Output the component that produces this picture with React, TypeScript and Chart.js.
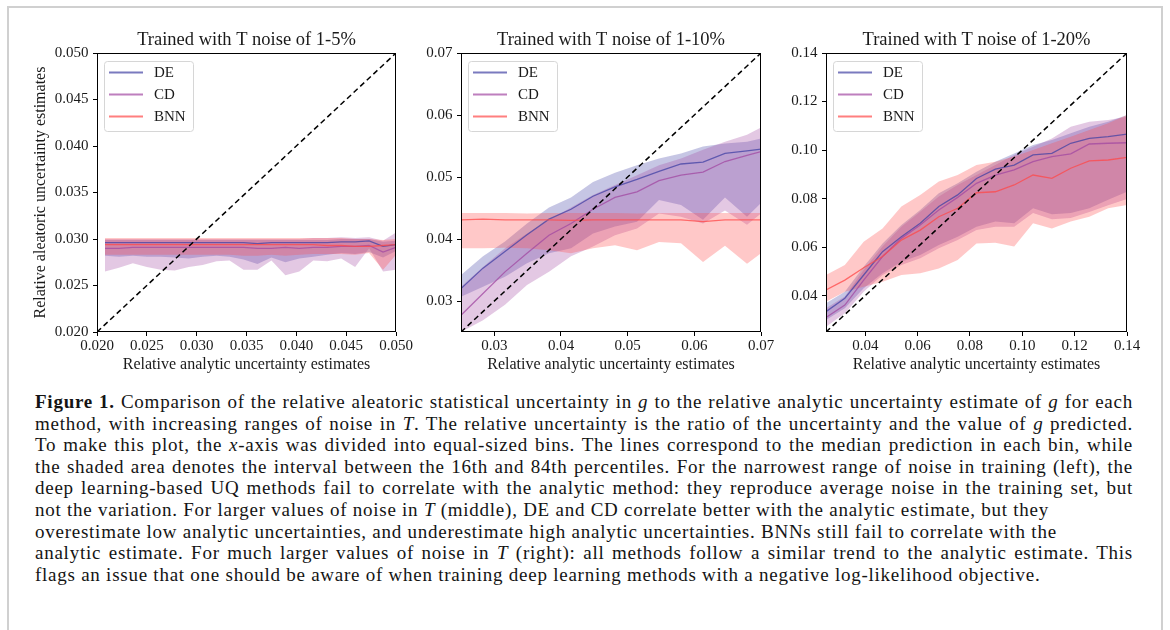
import React, { useEffect, useRef } from "react";
import { Chart, registerables } from "chart.js";

Chart.register(...registerables);

// ---------------- Panel 1: noise 1-5% ----------------
const P1_X = [0.0208, 0.0222, 0.0236, 0.025, 0.0264, 0.0278, 0.0292, 0.0306, 0.032, 0.0333, 0.0347, 0.0361, 0.0375, 0.0389, 0.0403, 0.0417, 0.0431, 0.0445, 0.0459, 0.0473, 0.0487, 0.05];
const P1_DE = [0.0296, 0.0296, 0.0296, 0.0296, 0.0296, 0.0296, 0.0296, 0.0296, 0.0296, 0.0296, 0.0296, 0.0295, 0.0296, 0.0296, 0.0296, 0.0296, 0.0296, 0.0297, 0.0297, 0.0298, 0.0292, 0.0294];
const P1_DE_HI = [0.0299, 0.0299, 0.0299, 0.0299, 0.0299, 0.0299, 0.0299, 0.0299, 0.0299, 0.0299, 0.0299, 0.0299, 0.0299, 0.0299, 0.0299, 0.0299, 0.0299, 0.03, 0.03, 0.03, 0.0297, 0.0298];
const P1_DE_LO = [0.0282, 0.0281, 0.0282, 0.0281, 0.0281, 0.028, 0.0279, 0.0281, 0.0282, 0.0281, 0.0278, 0.0273, 0.028, 0.0275, 0.0279, 0.0281, 0.0283, 0.0285, 0.0284, 0.0286, 0.028, 0.0287];
const P1_CD = [0.029, 0.029, 0.0291, 0.0291, 0.0291, 0.0291, 0.0291, 0.0291, 0.0291, 0.0291, 0.0291, 0.029, 0.029, 0.0291, 0.029, 0.0291, 0.0291, 0.0292, 0.0292, 0.0293, 0.0286, 0.0291];
const P1_CD_HI = [0.03, 0.03, 0.03, 0.03, 0.03, 0.03, 0.03, 0.03, 0.03, 0.03, 0.03, 0.03, 0.03, 0.03, 0.03, 0.0301, 0.0301, 0.0302, 0.0301, 0.0302, 0.0298, 0.0307];
const P1_CD_LO = [0.0265, 0.0269, 0.0274, 0.027, 0.0267, 0.0266, 0.027, 0.0272, 0.0276, 0.0277, 0.0267, 0.0267, 0.0277, 0.0261, 0.0265, 0.0277, 0.0276, 0.0279, 0.027, 0.029, 0.0265, 0.0267];
const P1_BNN = [0.0294, 0.0294, 0.0294, 0.0294, 0.0294, 0.0294, 0.0294, 0.0294, 0.0294, 0.0294, 0.0294, 0.0294, 0.0294, 0.0294, 0.0294, 0.0294, 0.0293, 0.0293, 0.0292, 0.0292, 0.0293, 0.0294];
const P1_BNN_HI = [0.0301, 0.0301, 0.0301, 0.0301, 0.0301, 0.0301, 0.0301, 0.0301, 0.0301, 0.0301, 0.0301, 0.0301, 0.0301, 0.0301, 0.0301, 0.0301, 0.0301, 0.0301, 0.03, 0.03, 0.0299, 0.03];
const P1_BNN_LO = [0.0283, 0.0283, 0.0283, 0.0283, 0.0283, 0.0283, 0.0283, 0.0283, 0.0283, 0.0283, 0.0282, 0.0282, 0.0283, 0.0282, 0.0283, 0.0284, 0.0284, 0.0284, 0.0283, 0.0285, 0.0267, 0.0283];
const P1_TICKS = [0.02, 0.025, 0.03, 0.035, 0.04, 0.045, 0.05];

// ---------------- Panel 2: noise 1-10% ----------------
const P2_X = [0.025, 0.0283, 0.0316, 0.0349, 0.0382, 0.0415, 0.0448, 0.0481, 0.0514, 0.0547, 0.058, 0.0613, 0.0646, 0.0679, 0.07];
const P2_DE = [0.032, 0.0353, 0.038, 0.0407, 0.0432, 0.0448, 0.0469, 0.0484, 0.0496, 0.0509, 0.0521, 0.0524, 0.0538, 0.0542, 0.0545];
const P2_DE_HI = [0.0342, 0.0372, 0.0396, 0.0425, 0.0451, 0.0467, 0.0492, 0.0507, 0.0519, 0.053, 0.0538, 0.0549, 0.0554, 0.0557, 0.0562];
const P2_DE_LO = [0.0307, 0.0323, 0.0339, 0.0361, 0.0377, 0.0385, 0.0409, 0.042, 0.0428, 0.0463, 0.0455, 0.0431, 0.0467, 0.0436, 0.0458];
const P2_CD = [0.0277, 0.0312, 0.0347, 0.0377, 0.0406, 0.0425, 0.0448, 0.0467, 0.0476, 0.0494, 0.0503, 0.0508, 0.0525, 0.0535, 0.0541];
const P2_CD_HI = [0.0323, 0.0355, 0.0385, 0.0409, 0.0431, 0.0451, 0.0471, 0.0487, 0.0503, 0.0519, 0.053, 0.0544, 0.0557, 0.0568, 0.058];
const P2_CD_LO = [0.025, 0.0269, 0.0294, 0.0326, 0.0347, 0.0372, 0.0388, 0.0406, 0.0417, 0.0441, 0.0436, 0.0425, 0.0446, 0.0423, 0.0441];
const P2_BNN = [0.0431, 0.0432, 0.0431, 0.0431, 0.0431, 0.043, 0.0431, 0.0431, 0.0431, 0.0431, 0.0431, 0.0428, 0.0431, 0.0431, 0.0431];
const P2_BNN_HI = [0.0442, 0.0442, 0.0442, 0.0441, 0.0442, 0.0442, 0.0442, 0.0442, 0.0441, 0.0442, 0.0442, 0.0442, 0.0442, 0.0442, 0.0442];
const P2_BNN_LO = [0.0385, 0.0385, 0.0386, 0.0385, 0.0382, 0.0377, 0.0385, 0.039, 0.0382, 0.0395, 0.0393, 0.0363, 0.0389, 0.036, 0.0377];
const P2_TICKS = [0.03, 0.04, 0.05, 0.06, 0.07];

// ---------------- Panel 3: noise 1-20% ----------------
const P3_X = [0.025, 0.0322, 0.0394, 0.0466, 0.0538, 0.061, 0.0681, 0.0753, 0.0825, 0.0897, 0.0969, 0.1041, 0.1113, 0.1185, 0.1256, 0.1328, 0.14];
const P3_DE = [0.0334, 0.0389, 0.0485, 0.0581, 0.0643, 0.0698, 0.0767, 0.0815, 0.0883, 0.0921, 0.0938, 0.098, 0.0986, 0.1028, 0.1048, 0.1055, 0.1066];
const P3_DE_HI = [0.0368, 0.0416, 0.0519, 0.0615, 0.0691, 0.0753, 0.0822, 0.0863, 0.0911, 0.0952, 0.0986, 0.1021, 0.1041, 0.1069, 0.1096, 0.1117, 0.1144];
const P3_DE_LO = [0.0299, 0.0348, 0.043, 0.0492, 0.054, 0.0567, 0.0609, 0.0643, 0.0684, 0.0705, 0.0698, 0.076, 0.0735, 0.074, 0.076, 0.0795, 0.0828];
const P3_CD = [0.031, 0.0361, 0.0464, 0.0561, 0.0636, 0.0691, 0.0753, 0.0805, 0.0863, 0.0897, 0.0918, 0.0952, 0.0973, 0.0984, 0.1025, 0.1028, 0.103];
const P3_CD_HI = [0.0348, 0.0396, 0.0506, 0.0602, 0.0684, 0.0746, 0.0808, 0.0856, 0.0897, 0.0938, 0.098, 0.1014, 0.1048, 0.1096, 0.1117, 0.1124, 0.1137];
const P3_CD_LO = [0.0272, 0.0327, 0.0416, 0.0485, 0.0526, 0.0554, 0.0595, 0.0629, 0.067, 0.0684, 0.0684, 0.074, 0.0715, 0.072, 0.0745, 0.0772, 0.0798];
const P3_BNN = [0.0423, 0.0464, 0.0515, 0.0561, 0.0629, 0.067, 0.0725, 0.076, 0.0824, 0.0828, 0.0856, 0.0897, 0.0883, 0.0925, 0.0955, 0.0959, 0.097];
const P3_BNN_HI = [0.0485, 0.0526, 0.0622, 0.0677, 0.0767, 0.0815, 0.087, 0.0897, 0.0938, 0.0952, 0.0973, 0.1, 0.1028, 0.1055, 0.1083, 0.111, 0.1144];
const P3_BNN_LO = [0.0375, 0.0416, 0.0437, 0.0457, 0.0485, 0.0492, 0.0512, 0.0547, 0.0615, 0.0618, 0.0602, 0.0698, 0.0677, 0.0705, 0.0725, 0.076, 0.0773];
const P3_TICKS = [0.04, 0.06, 0.08, 0.1, 0.12, 0.14];

const METHODS = ["DE", "CD", "BNN"];
const METHOD_RGB = ["66,66,164", "162,72,162", "255,72,72"];

const FONT = "'Liberation Serif', serif";
const TEXT = "#1a1a1a";

type PanelSpec = {
  title: string;
  lo: number;
  hi: number;
  ticks: number[];
  decimals: number;
  x: number[];
  med: number[][];
  up: number[][];
  low: number[][];
  yTitle: boolean;
  left: number; // canvas left (page px)
  yw: number; // y axis box width
  plotW: number;
};

const PANELS: PanelSpec[] = [
  {
    title: "Trained with T noise of 1-5%",
    lo: 0.02, hi: 0.05, ticks: P1_TICKS, decimals: 3, x: P1_X,
    med: [P1_DE, P1_CD, P1_BNN], up: [P1_DE_HI, P1_CD_HI, P1_BNN_HI], low: [P1_DE_LO, P1_CD_LO, P1_BNN_LO],
    yTitle: true, left: 20, yw: 77, plotW: 299,
  },
  {
    title: "Trained with T noise of 1-10%",
    lo: 0.025, hi: 0.07, ticks: P2_TICKS, decimals: 2, x: P2_X,
    med: [P2_DE, P2_CD, P2_BNN], up: [P2_DE_HI, P2_CD_HI, P2_BNN_HI], low: [P2_DE_LO, P2_CD_LO, P2_BNN_LO],
    yTitle: false, left: 411, yw: 50, plotW: 300,
  },
  {
    title: "Trained with T noise of 1-20%",
    lo: 0.025, hi: 0.14, ticks: P3_TICKS, decimals: 2, x: P3_X,
    med: [P3_DE, P3_CD, P3_BNN], up: [P3_DE_HI, P3_CD_HI, P3_BNN_HI], low: [P3_DE_LO, P3_CD_LO, P3_BNN_LO],
    yTitle: false, left: 776, yw: 50, plotW: 301,
  },
];

const CANVAS_H = 377;
const RIGHT_PAD = 25;

const pts = (xs: number[], ys: number[]) => xs.map((x, i) => ({ x, y: ys[i] }));

const legendPlugin = {
  id: "panelLegend",
  afterDatasetsDraw(chart: any) {
    const { left, top, right, bottom } = chart.chartArea;
    const ctx = chart.ctx;
    ctx.save();
    // frame (spines)
    ctx.strokeStyle = "#000";
    ctx.lineWidth = 1;
    ctx.strokeRect(Math.round(left) + 0.5, Math.round(top) + 0.5, Math.round(right - left) - 1, Math.round(bottom - top) - 1);
    // legend box
    const bx = left + 7.5, by = top + 8.5, bw = 89, bh = 70, r = 3;
    ctx.beginPath();
    ctx.moveTo(bx + r, by);
    ctx.lineTo(bx + bw - r, by);
    ctx.quadraticCurveTo(bx + bw, by, bx + bw, by + r);
    ctx.lineTo(bx + bw, by + bh - r);
    ctx.quadraticCurveTo(bx + bw, by + bh, bx + bw - r, by + bh);
    ctx.lineTo(bx + r, by + bh);
    ctx.quadraticCurveTo(bx, by + bh, bx, by + bh - r);
    ctx.lineTo(bx, by + r);
    ctx.quadraticCurveTo(bx, by, bx + r, by);
    ctx.closePath();
    ctx.fillStyle = "rgba(255,255,255,0.8)";
    ctx.fill();
    ctx.strokeStyle = "#d6d6d6";
    ctx.lineWidth = 1;
    ctx.stroke();
    ctx.font = `15px ${FONT}`;
    ctx.textBaseline = "middle";
    ctx.textAlign = "left";
    METHODS.forEach((m, i) => {
      const y = top + 19.5 + i * 22;
      ctx.beginPath();
      ctx.moveTo(left + 12, y);
      ctx.lineTo(left + 46, y);
      ctx.strokeStyle = `rgba(${METHOD_RGB[i]},0.7)`;
      ctx.lineWidth = 2;
      ctx.stroke();
      ctx.fillStyle = TEXT;
      ctx.fillText(m, left + 57, y + 1);
    });
    ctx.restore();
  },
};

function Panel({ spec }: { spec: PanelSpec }) {
  const ref = useRef<HTMLCanvasElement | null>(null);
  const width = spec.yw + spec.plotW + RIGHT_PAD;

  useEffect(() => {
    if (!ref.current) return;
    // datasets are drawn from the last index to the first: list BNN first so it is painted on top
    const idx = [2, 1, 0];
    const bands: any[] = [];
    idx.forEach((i) => {
      const m = METHODS[i];
      bands.push({
        label: m + " upper",
        data: pts(spec.x, spec.up[i]),
        borderWidth: 0,
        borderColor: "rgba(0,0,0,0)",
        backgroundColor: `rgba(${METHOD_RGB[i]},0.3)`,
        fill: "+1",
        order: 2,
      });
      bands.push({
        label: m + " lower",
        data: pts(spec.x, spec.low[i]),
        borderWidth: 0,
        borderColor: "rgba(0,0,0,0)",
        fill: false,
        order: 2,
      });
    });
    const lines = idx.map((i) => ({
      label: METHODS[i],
      data: pts(spec.x, spec.med[i]),
      borderColor: `rgba(${METHOD_RGB[i]},0.75)`,
      borderWidth: 1.3,
      fill: false,
      order: 1,
    }));
    const diag = {
      label: "diag",
      data: [{ x: spec.lo, y: spec.lo }, { x: spec.hi, y: spec.hi }],
      borderColor: "#000",
      borderWidth: 1.5,
      borderDash: [5.5, 3.5],
      fill: false,
      order: 0,
    };
    const fmt = (v: any) => Number(v).toFixed(spec.decimals);
    const tickFont = { family: FONT, size: 15 };
    const chart = new Chart(ref.current, {
      type: "line",
      data: { datasets: [diag, ...lines, ...bands] as any },
      plugins: [legendPlugin],
      options: {
        animation: false,
        responsive: false,
        maintainAspectRatio: false,
        layout: { padding: { left: 0, right: RIGHT_PAD, top: 0, bottom: 0 } },
        elements: { point: { radius: 0 }, line: { tension: 0 } },
        plugins: {
          legend: { display: false },
          tooltip: { enabled: false },
          title: {
            display: true,
            fullSize: false,
            text: spec.title,
            color: TEXT,
            font: { family: FONT, size: 18.5, weight: "normal", lineHeight: 1.2 },
            padding: { top: 28.9, bottom: 1.9 },
          },
        },
        scales: {
          x: {
            type: "linear",
            min: spec.lo,
            max: spec.hi,
            afterBuildTicks: (s: any) => { s.ticks = spec.ticks.map((v) => ({ value: v })); },
            afterFit: (s: any) => { s.height = 45; },
            ticks: { font: tickFont, color: TEXT, padding: 1.5, maxRotation: 0, autoSkip: false, callback: fmt },
            grid: { drawOnChartArea: false, drawTicks: true, tickLength: 4, color: "#000", tickColor: "#000" },
            border: { display: false },
            title: {
              display: true,
              text: "Relative analytic uncertainty estimates",
              color: TEXT,
              font: { family: FONT, size: 16, lineHeight: 1.2 },
              padding: { top: 0, bottom: 2.4 },
            },
          },
          y: {
            type: "linear",
            min: spec.lo,
            max: spec.hi,
            afterBuildTicks: (s: any) => { s.ticks = spec.ticks.map((v) => ({ value: v })); },
            afterFit: (s: any) => { s.width = spec.yw; },
            ticks: { font: tickFont, color: TEXT, padding: 4.5, autoSkip: false, callback: fmt },
            grid: { drawOnChartArea: false, drawTicks: true, tickLength: 4, color: "#000", tickColor: "#000" },
            border: { display: false },
            title: {
              display: spec.yTitle,
              text: "Relative aleatoric uncertainty estimates",
              color: TEXT,
              font: { family: FONT, size: 16, lineHeight: 1.2 },
              padding: { top: 11.4, bottom: 0 },
            },
          },
        },
      } as any,
    });
    return () => chart.destroy();
  }, [spec]);

  return (
    <canvas
      ref={ref}
      width={width}
      height={CANVAS_H}
      style={{ position: "absolute", left: spec.left, top: 0, width, height: CANVAS_H }}
    />
  );
}

const CAPTION_STYLE: React.CSSProperties = {
  position: "absolute",
  left: 35,
  top: 391,
  width: 1098,
  fontFamily: "'Liberation Serif', serif",
  fontSize: 19,
  letterSpacing: "0.75px",
  lineHeight: "21.6px",
  color: "#141414",
  whiteSpace: "nowrap",
};

const FULL: React.CSSProperties = { textAlign: "justify", textAlignLast: "justify" };

export default function App() {
  return (
    <div style={{ position: "absolute", left: 0, top: 0, width: 1170, height: 630, overflow: "hidden", background: "#fff" }}>
      <div
        style={{
          position: "absolute",
          left: 7,
          top: 6,
          width: 1156,
          height: 700,
          boxSizing: "border-box",
          borderLeft: "2px solid #d0d0d0",
          borderRight: "2px solid #d0d0d0",
          borderTop: "2px solid #d0d0d0",
        }}
      />
      {PANELS.map((p, i) => (
        <Panel key={i} spec={p} />
      ))}
      <div style={CAPTION_STYLE}>
        <div style={FULL}>
          <b>Figure 1.</b> Comparison of the relative aleatoric statistical uncertainty in <i>g</i> to the relative analytic uncertainty estimate of <i>g</i> for each
        </div>
        <div style={FULL}>
          method, with increasing ranges of noise in <i>T</i>. The relative uncertainty is the ratio of the uncertainty and the value of <i>g</i> predicted.
        </div>
        <div style={FULL}>
          To make this plot, the <i>x</i>-axis was divided into equal-sized bins. The lines correspond to the median prediction in each bin, while
        </div>
        <div style={FULL}>the shaded area denotes the interval between the 16th and 84th percentiles. For the narrowest range of noise in training (left), the</div>
        <div style={FULL}>deep learning-based UQ methods fail to correlate with the analytic method: they reproduce average noise in the training set, but</div>
        <div>
          not the variation. For larger values of noise in <i>T</i> (middle), DE and CD correlate better with the analytic estimate, but they
        </div>
        <div>overestimate low analytic uncertainties, and underestimate high analytic uncertainties. BNNs still fail to correlate with the</div>
        <div style={FULL}>
          analytic estimate. For much larger values of noise in <i>T</i> (right): all methods follow a similar trend to the analytic estimate. This
        </div>
        <div>flags an issue that one should be aware of when training deep learning methods with a negative log-likelihood objective.</div>
      </div>
    </div>
  );
}
